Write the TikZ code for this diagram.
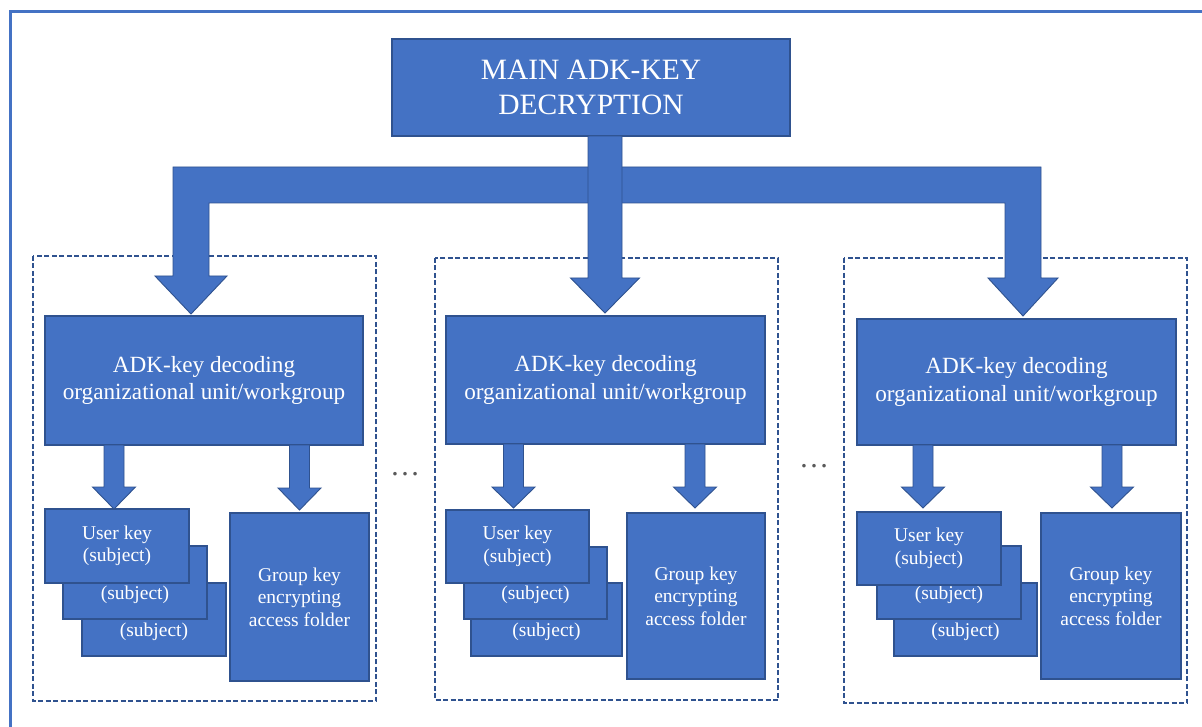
\documentclass[tikz,border=0pt]{standalone}
\usepackage{fontspec}
\setmainfont{Liberation Serif}
\usetikzlibrary{calc}
\definecolor{bfill}{HTML}{4472C4}
\definecolor{bdr}{HTML}{2F528F}
\definecolor{dotc}{HTML}{595959}
\newcommand\blockdown[6]{%
  \draw[#1] let \p1=(#2), \p2=(#3) in
    (\x2-#4,\y1) -- (\x2+#4,\y1) -- (\x2+#4,\y2+#6) -- (\x2+#5,\y2+#6) --
    (\p2) -- (\x2-#5,\y2+#6) -- (\x2-#4,\y2+#6) -- cycle;}
\tikzset{
  box/.style={draw=bdr, fill=bfill, line width=1.3pt, inner sep=0pt, outer sep=0pt,
    anchor=north west, text=white, align=center},
  uktext/.style={text=white, font=\fontsize{19.5}{22.5}\selectfont, inner sep=0pt},
  barrow/.style={draw=bdr, fill=bfill, line width=0.9pt, line join=miter},
  panel/.style={draw=bdr, dash pattern=on 5pt off 2.5pt, line width=1.3pt},
  frame/.style={draw=bfill, line width=3pt},
  dotsnode/.style={text=dotc, font=\fontsize{30}{30}\selectfont, inner sep=0pt},
}
\begin{document}
\begin{tikzpicture}[x=1pt,y=-1pt]
\clip (0,0) rectangle (1202,727);
\fill[white] (0,0) rectangle (1202,727);
\draw[frame] (10,12) rectangle (1230,760);

% panels
\draw[panel] (33,256) rectangle (376,701);
\draw[panel] (435,258) rectangle (778,700);
\draw[panel] (844,258) rectangle (1187,703);

% top box
\node[box, minimum width=398pt, minimum height=97pt,
  font=\fontsize{29.5}{35}\selectfont] (main) at (392,39) {MAIN ADK-KEY\\DECRYPTION};

% ADK boxes
\node[box, minimum width=318pt, minimum height=129pt, font=\fontsize{23.2}{27.5}\selectfont]
  (adkA) at (45,316) {ADK-key decoding\\organizational unit/workgroup};
\node[box, minimum width=319pt, minimum height=128pt, font=\fontsize{23.2}{27.5}\selectfont]
  (adkB) at (446,316) {ADK-key decoding\\organizational unit/workgroup};
\node[box, minimum width=319pt, minimum height=126pt, font=\fontsize{23.2}{27.5}\selectfont]
  (adkC) at (857,319) {ADK-key decoding\\organizational unit/workgroup};

% branch arrows (bar with left and right branches)
\coordinate (tipL) at (191,314);
\coordinate (tipR) at (1023,316);
\coordinate (barT) at (605,167);
\coordinate (barB) at (605,203);
\draw[barrow] let \p1=(tipL), \p2=(tipR), \p3=(barT), \p4=(barB) in
  (\x1-18,\y3) -- (\x2+18,\y3) -- (\x2+18,\y2+38) -- (\x2+35,\y2+38) -- (tipR)
  -- (\x2-35,\y2+38) -- (\x2-18,\y2+38) -- (\x2-18,\y4) -- (\x1+18,\y4)
  -- (\x1+18,\y1+38) -- (\x1+36,\y1+38) -- (tipL) -- (\x1-36,\y1+38)
  -- (\x1-18,\y1+38) -- cycle;
% main down arrow
\coordinate (tipM) at (605,313);
\blockdown{barrow}{main.south}{tipM}{17pt}{34.5pt}{35pt}

% user key stacks and group boxes, panel A
\node[box, minimum width=144pt, minimum height=73pt] (ukA3) at (82,583) {};
\node[uktext] at ($(ukA3.north)+(0,49)$) {(subject)};
\node[box, minimum width=144pt, minimum height=73pt] (ukA2) at (63,546) {};
\node[uktext] at ($(ukA2.north)+(0,49)$) {(subject)};
\node[box, minimum width=144pt, minimum height=74pt, font=\fontsize{19.5}{22.5}\selectfont]
  (ukA1) at (45,509) {User key\\(subject)};
\node[box, minimum width=139pt, minimum height=168pt, font=\fontsize{19.5}{22.5}\selectfont]
  (grA) at (230,513) {Group key\\encrypting\\access folder};

% panel B
\node[box, minimum width=151pt, minimum height=73pt] (ukB3) at (471,583) {};
\node[uktext] at ($(ukB3.north)+(0,49)$) {(subject)};
\node[box, minimum width=143pt, minimum height=72pt] (ukB2) at (464,547) {};
\node[uktext] at ($(ukB2.north)+(0,48)$) {(subject)};
\node[box, minimum width=143pt, minimum height=73pt, font=\fontsize{19.5}{22.5}\selectfont]
  (ukB1) at (446,510) {User key\\(subject)};
\node[box, minimum width=138pt, minimum height=166pt, font=\fontsize{19.5}{22.5}\selectfont]
  (grB) at (627,513) {Group key\\encrypting\\access folder};

% panel C
\node[box, minimum width=143pt, minimum height=73pt] (ukC3) at (894,583) {};
\node[uktext] at ($(ukC3.north)+(0,49)$) {(subject)};
\node[box, minimum width=144pt, minimum height=73pt] (ukC2) at (877,546) {};
\node[uktext] at ($(ukC2.north)+(0,49)$) {(subject)};
\node[box, minimum width=144pt, minimum height=73pt, font=\fontsize{19.5}{22.5}\selectfont]
  (ukC1) at (857,512) {User key\\(subject)};
\node[box, minimum width=140pt, minimum height=166pt, font=\fontsize{19.5}{22.5}\selectfont]
  (grC) at (1041,513) {Group key\\encrypting\\access folder};

% small arrows
\coordinate (aA1) at ($(ukA1.north)+(-3,0)$);
\coordinate (aA2) at ($(grA.north)+(0,-3)$);
\blockdown{barrow}{adkA.south}{aA1}{10pt}{21.5pt}{22pt}
\blockdown{barrow}{adkA.south}{aA2}{10pt}{21.5pt}{22pt}
\coordinate (aB1) at ($(ukB1.north)+(-4,-2)$);
\coordinate (aB2) at ($(grB.north)+(-1,-5)$);
\blockdown{barrow}{adkB.south}{aB1}{10pt}{21.5pt}{21pt}
\blockdown{barrow}{adkB.south}{aB2}{10pt}{21.5pt}{21pt}
\coordinate (aC1) at ($(ukC1.north)+(-6,-4)$);
\coordinate (aC2) at ($(grC.north)+(1,-5)$);
\blockdown{barrow}{adkC.south}{aC1}{10pt}{21.5pt}{21pt}
\blockdown{barrow}{adkC.south}{aC2}{10pt}{21.5pt}{21pt}

% ellipses
\node[dotsnode] (dots1) at (405,474) {…};
\node[dotsnode] (dots2) at (814,466) {…};
\end{tikzpicture}
\end{document}
